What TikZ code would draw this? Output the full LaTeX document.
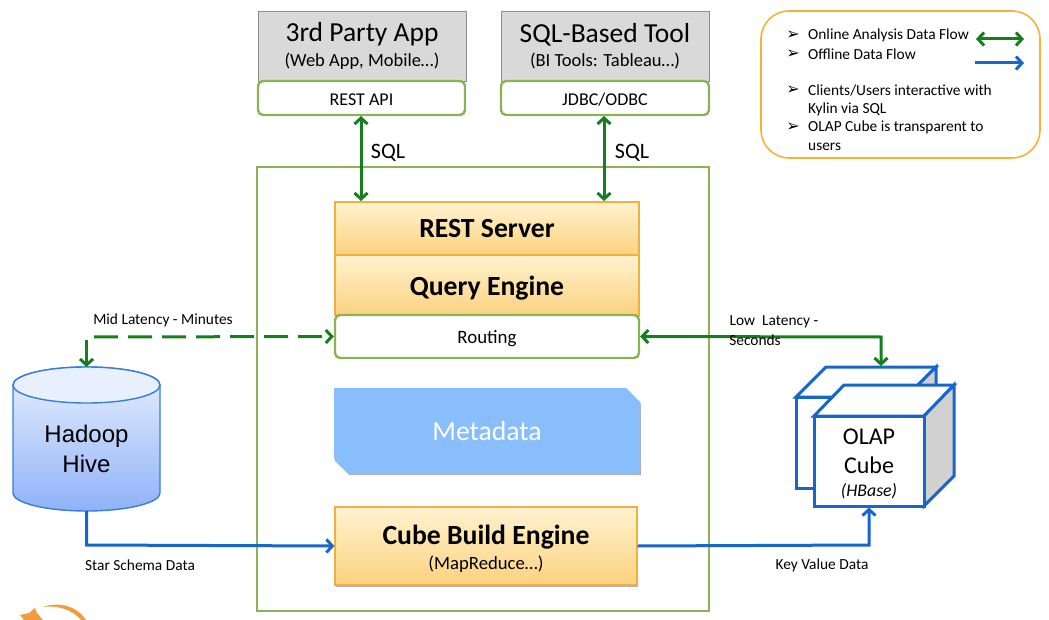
\documentclass[tikz,border=0pt]{standalone}
\usepackage{fontspec}
\setmainfont{Carlito}
\newfontfamily\hivefont{Liberation Sans}
\newfontfamily\bulletfont{DejaVu Sans}
\usetikzlibrary{arrows.meta,shadows,calc}
\definecolor{flowgreen}{HTML}{157F1F}
\definecolor{flowblue}{HTML}{1666CC}
\definecolor{framegreen}{HTML}{8DB255}
\definecolor{boxorange}{HTML}{F0B040}
\definecolor{legendorange}{HTML}{F5B336}
\definecolor{metablue}{HTML}{88BEFC}
\definecolor{logoorange}{HTML}{F39C3D}
\definecolor{enginetop}{HTML}{FFF2CF}
\definecolor{enginebottom}{HTML}{FBD27F}
\definecolor{hivetopc}{HTML}{E8F0FD}
\definecolor{hivebottomc}{HTML}{8FB2F8}
\tikzset{
  x=1pt,y=-1pt,
  greenflow/.style={draw=flowgreen,line width=3pt,{Straight Barb[length=6pt,width=13pt]}-{Straight Barb[length=6pt,width=13pt]}},
  greenone/.style={draw=flowgreen,line width=3pt,-{Straight Barb[length=6pt,width=13pt]}},
  greendash/.style={draw=flowgreen,line width=3pt,dash pattern=on 24pt off 10pt,-{Straight Barb[length=6pt,width=13pt]}},
  blueflow/.style={draw=flowblue,line width=3pt,-{Straight Barb[length=6pt,width=13pt]}},
  softshadow/.style={drop shadow={shadow xshift=1pt,shadow yshift=-2pt,opacity=.3,fill=black}},
  graybox/.style={draw=black!45,fill=black!15,line width=.8pt,inner sep=0,align=center,minimum width=208pt,minimum height=70pt},
  ifacebox/.style={draw=framegreen,fill=white,line width=2.4pt,rounded corners=5pt,inner sep=0,minimum width=207pt,minimum height=34pt,font=\fontsize{18}{20}\selectfont},
  enginebox/.style={draw=boxorange,line width=1.2pt,top color=enginetop,bottom color=enginebottom,inner sep=0,align=center,softshadow},
  boldlabel/.style={font=\fontsize{27.7}{30}\selectfont\bfseries},
  lbl/.style={font=\fontsize{15.4}{17}\selectfont,inner sep=0},
  sqllbl/.style={font=\fontsize{22}{24}\selectfont,inner sep=0},
  legendtext/.style={font=\fontsize{15.4}{18.5}\selectfont,inner sep=0,anchor=west},
  legendbullet/.style={font=\bulletfont\fontsize{16}{18}\selectfont,inner sep=0},
  cubeedge/.style={draw=flowblue,line width=3pt,line join=miter},
}
\begin{document}
\begin{tikzpicture}
\useasboundingbox (0,0) rectangle (1049,620);
% logo fragment
\fill[logoorange] (43,607) .. controls (55,602) and (76,604) .. (86,620) -- (81,620) .. controls (72,609) and (56,605) .. (43,607) -- cycle;
\fill[logoorange] (20,615) -- (29,613) -- (35,608) -- (37,613) -- (43,620) -- (24,620) -- cycle;
% main frame
\node[draw=framegreen,line width=2.4pt,minimum width=452pt,minimum height=444pt,inner sep=0] (frame) at (483,389) {};
% clients
\node[graybox] (app) at (362,46) {{\fontsize{27.5}{30}\selectfont 3rd Party App}\\[6pt]{\fontsize{18.5}{22}\selectfont (Web App, Mobile…)}};
\node[ifacebox] (rest) at (361.5,98) {\rule{0pt}{15pt}REST API};
\node[graybox] (tool) at (605,46) {{\fontsize{27.5}{30}\selectfont SQL-Based Tool}\\[6pt]{\fontsize{18.5}{22}\selectfont (BI Tools: Tableau…)}};
\node[ifacebox,minimum width=208pt] (jdbc) at (605,98) {\rule{0pt}{15pt}JDBC/ODBC};
% engines
\node[enginebox,minimum width=304pt,minimum height=53pt,boldlabel] (server) at (487,228.5) {REST Server};
\node[enginebox,minimum width=304pt,minimum height=60pt,boldlabel] (query) at (487,285) {\rule{0pt}{25pt}Query Engine};
\node[ifacebox,minimum width=304pt,minimum height=43pt,font=\fontsize{18.9}{21}\selectfont] (routing) at (487,336.5) {\rule{0pt}{18pt}Routing};
\path[fill=metablue,softshadow] (334,388) -- (626,388) -- (640,402) -- (640,473) -- (348,473) -- (334,459) -- cycle;
\node[inner sep=0,text=white,font=\fontsize{27.7}{30}\selectfont] (meta) at (487,431) {Metadata};
\node[enginebox,minimum width=302pt,minimum height=78pt] (build) at (486,546) {\rule{0pt}{25pt}{\fontsize{27.7}{30}\selectfont\bfseries Cube Build Engine}\\[5pt]{\fontsize{18.7}{22}\selectfont (MapReduce…)}};
% hive cylinder
\path[draw=flowblue!85!white,line width=1.4pt,top color=hivetopc,bottom color=hivebottomc]
  (13,385) .. controls (13,375) and (46,367) .. (86.5,367) .. controls (127,367) and (160,375) .. (160,385)
  -- (160,493) .. controls (160,503) and (127,511) .. (86.5,511) .. controls (46,511) and (13,503) .. (13,493) -- cycle;
\path[draw=flowblue!85!white,line width=1.4pt,fill=hivetopc]
  (13,385) .. controls (13,375) and (46,367) .. (86.5,367) .. controls (127,367) and (160,375) .. (160,385)
  .. controls (160,395) and (127,403) .. (86.5,403) .. controls (46,403) and (13,395) .. (13,385) -- cycle;
\node[inner sep=0,align=center,font=\hivefont\fontsize{24}{30}\selectfont] (hivetext) at (86.5,449) {Hadoop\\Hive};
\coordinate (hivetop) at (86.5,367);
\coordinate (hivebottom) at (86.5,511);
% olap cubes
\path[cubeedge,fill=white] (796,397) -- (826,367) -- (936,367) -- (906,397) -- cycle;
\path[cubeedge,fill=black!18] (906,397) -- (936,367) -- (936,458) -- (906,488) -- cycle;
\path[cubeedge,fill=white] (796,397) rectangle (906,488);
\path[cubeedge,fill=white] (814,416) -- (844,385) -- (954,385) -- (924,416) -- cycle;
\path[cubeedge,fill=black!18] (924,416) -- (954,385) -- (954,476) -- (924,506) -- cycle;
\node[cubeedge,fill=white,minimum width=110pt,minimum height=90pt,inner sep=0,align=center,font=\fontsize{24}{29}\selectfont] (cube) at (869,461)
  {\rule{0pt}{22pt}OLAP\\Cube\\[-6pt]{\fontsize{17.8}{20}\selectfont\itshape (HBase)}};
\coordinate (cubetop) at (881,366);
\coordinate (cubecorner) at (881,337);
% green flows
\draw[greenflow] (361,116) -- (361,201);
\draw[greenflow] (604,116) -- (604,201);
\node[sqllbl] (sql1) at (388,153) {SQL};
\node[sqllbl] (sql2) at (632,153) {SQL};
\coordinate (dashstart) at (94,337);
\coordinate (hivearrow) at (86.5,340);
\draw[greendash] (dashstart) -- (routing.west);
\draw[greenone] (hivearrow) -- (hivetop);
\draw[greenflow] (routing.east) -- (cubecorner) -- (cubetop);
% blue flows
\coordinate (bl) at (86.5,545);
\coordinate (br) at (869,545);
\draw[blueflow] (hivebottom) -- (bl) -- (build.west);
\draw[blueflow] (build.east) -- (br) -- (cube.south);
% labels
\node[lbl] (mid) at (163,320.5) {Mid Latency - Minutes};
\node[lbl] (low) at (774,321.5) {Low\ \ Latency -};
\node[lbl] (sec) at (755,340) {Seconds};
\node[lbl] (star) at (140,565.5) {Star Schema Data};
\node[lbl] (kv) at (822,565.5) {Key Value Data};
% legend
\node[draw=legendorange,line width=1.6pt,rounded corners=28pt,minimum width=279pt,minimum height=147pt,inner sep=0] (legend) at (900.5,84.5) {};
\foreach \y/\t in {35/{Online Analysis Data Flow},54/{Offline Data Flow},90/{Clients{/}Users interactive with},127.5/{OLAP Cube is transparent to}}{
  \node[legendbullet] at (793,\y) {➢};
  \node[legendtext] at (808,\y) {\t};
}
\node[legendtext] at (808,109) {Kylin via SQL};
\node[legendtext] at (808,146.5) {users};
\coordinate (lg1) at (976,39); \coordinate (lg2) at (1024,39);
\coordinate (lb1) at (975,63); \coordinate (lb2) at (1024,63);
\draw[greenflow] (lg1) -- (lg2);
\draw[blueflow] (lb1) -- (lb2);
\end{tikzpicture}
\end{document}
